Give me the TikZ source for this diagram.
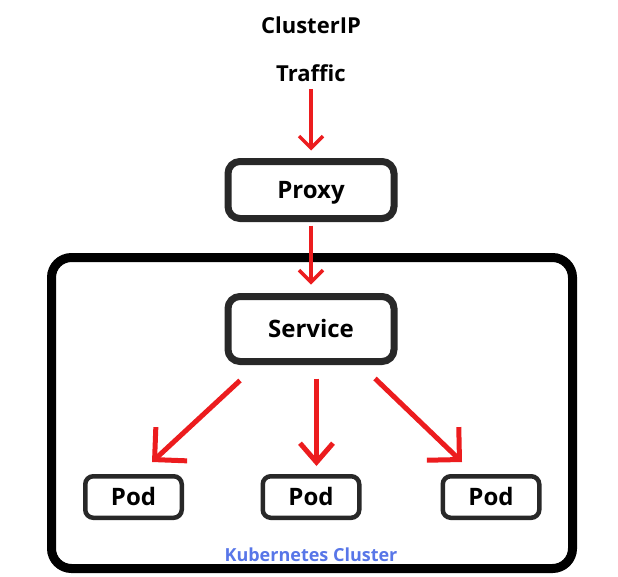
\documentclass[tikz,border=0pt]{standalone}
\usepackage{fontspec}
\setmainfont{Open Sans}
\usepackage{xcolor}
\usetikzlibrary{arrows.meta,positioning}

\definecolor{kred}{RGB}{236,28,30}
\definecolor{kbox}{RGB}{40,40,40}
\definecolor{kblue}{RGB}{88,118,232}

\begin{document}
\begin{tikzpicture}[
  x=1pt, y=-1pt,
  txt/.style={font=\fontsize{22}{24}\selectfont\bfseries, anchor=base, inner sep=0pt},
  block/.style={draw=kbox, line width=7pt, rounded corners=12pt, minimum width=166pt,
                font=\fontsize{24}{26}\selectfont\bfseries, text height=17pt, text depth=0pt},
  pod/.style={draw=kbox, line width=4.5pt, rounded corners=8pt, minimum width=96.5pt,
              minimum height=41.5pt, font=\fontsize{24}{26}\selectfont\bfseries,
              text height=17pt, text depth=0pt},
  cluster/.style={draw=black, line width=9pt, rounded corners=20pt,
                  minimum width=521pt, minimum height=311pt},
  arr/.style={draw=kred, line width=3.5pt, -{Straight Barb[length=12pt,width=24pt]}},
  fan/.style={draw=kred, line width=5pt, -{Straight Barb[length=23pt,width=46pt]}},
]
\useasboundingbox (0,0) rectangle (618,576);

\node[txt] (title) at (311,33) {ClusterIP};
\node[txt] (traffic) at (311,81) {Traffic};

\node[block, minimum height=57pt] (proxy) at (311,190) {Proxy};
\node[cluster] (k8s) at (312,413) {};
\node[block, minimum height=65pt] (service) at (311,329) {Service};

\node[pod] (pod1) at (133.5,497) {Pod};
\node[pod] (pod2) at (311,497) {Pod};
\node[pod] (pod3) at (491,497) {Pod};

\node[anchor=base, inner sep=0pt, text=kblue,
      font=\fontsize{18}{20}\selectfont\bfseries] (k8slbl) at (311,561) {Kubernetes Cluster};

\draw[arr, shorten <=8pt, shorten >=7.5pt] (traffic.south) -- (proxy.north);
\draw[arr, shorten <=3.5pt, shorten >=8.5pt] (proxy.south) -- (service.north);
\draw[fan] ([xshift=-71pt,yshift=-15.5pt]service.south) -- ([xshift=18.5pt,yshift=12pt]pod1.north);
\draw[fan, -{Straight Barb[length=19pt,width=33pt]}]
  ([xshift=5.5pt,yshift=-13.5pt]service.south) -- ([xshift=5.5pt,yshift=8pt]pod2.north);
\draw[fan] ([xshift=64pt,yshift=-13.5pt]service.south) -- ([xshift=-29pt,yshift=12pt]pod3.north);
\end{tikzpicture}
\end{document}
